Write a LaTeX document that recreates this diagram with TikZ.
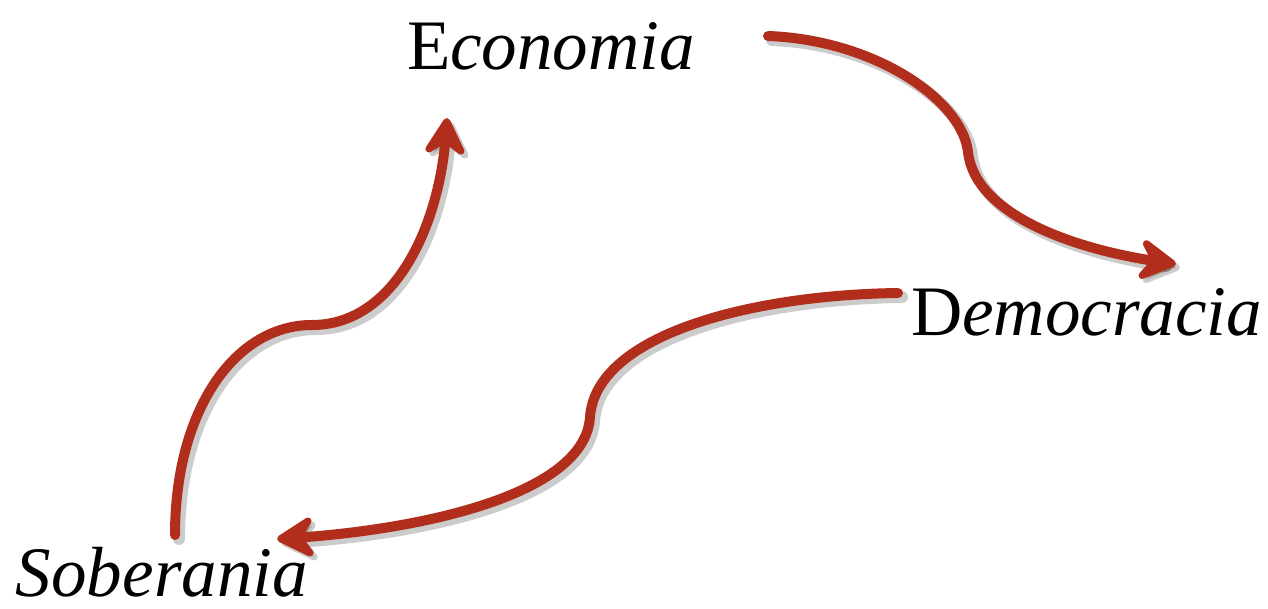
\documentclass[tikz,border=0pt]{standalone}
\usepackage{fontspec}
\setmainfont{Liberation Serif}
\usepackage{tikz}
\usetikzlibrary{decorations.markings, positioning}
\usepackage{xcolor}

\definecolor{flowred}{RGB}{178,46,28}

\begin{document}
\begin{tikzpicture}[
	x=1pt, y=-1pt,
	every node/.style={inner sep=0pt, outer sep=0pt},
	word/.style={font=\fontsize{71}{78}\selectfont, anchor=base west},
	flow head/.style={postaction={decorate, decoration={markings,
		mark=at position 0.9999 with {\filldraw[line width=7pt, line join=round, #1]
			(-3.5,0) -- (-32,16) -- (-21,0) -- (-32,-16) -- cycle;}}}},
	flow/.style={flowred, line width=10pt, line cap=round, shorten >=14pt,
		flow head={flowred}},
	flow shadow/.style={black, opacity=0.2, line width=12pt, line cap=round, shorten >=14pt,
		flow head={black}, transform canvas={shift={(4pt,-4pt)}}}
	]
	\useasboundingbox (0,0) rectangle (1268,609);

	% =====================================================
	% BEGRIFFE
	% =====================================================
	\node[word] (Economia) at (407,70) {E\textit{conomia}};
	\node[word] (Democracia) at (911,335) {D\textit{emocracia}};
	\node[word] (Soberania) at (16,596) {\textit{Soberania}};

	% =====================================================
	% END POINTS
	% =====================================================
	\coordinate (SobStart) at (175,535);
	\coordinate (SobBend) at (312,325);
	\coordinate (EcoTip) at (447,118);
	\coordinate (EcoStart) at (768,36);
	\coordinate (EcoBend) at (968,152);
	\coordinate (DemTip) at (1176,264);
	\coordinate (DemStart) at (898,293);
	\coordinate (DemBend) at (590,417);
	\coordinate (SobTip) at (277,539);

	% =====================================================
	% SCHATTEN
	% =====================================================
	\draw[flow shadow] (SobStart) .. controls (175,410) and (235,325) .. (SobBend)
		.. controls (395,325) and (440,225) .. (EcoTip);
	\draw[flow shadow] (EcoStart) .. controls (875,40) and (962,100) .. (EcoBend)
		.. controls (975,215) and (1075,250) .. (DemTip);
	\draw[flow shadow] (DemStart) .. controls (750,295) and (596,335) .. (DemBend)
		.. controls (585,495) and (420,530) .. (SobTip);

	% =====================================================
	% PFEILE
	% =====================================================
	\draw[flow] (SobStart) .. controls (175,410) and (235,325) .. (SobBend)
		.. controls (395,325) and (440,225) .. (EcoTip);
	\draw[flow] (EcoStart) .. controls (875,40) and (962,100) .. (EcoBend)
		.. controls (975,215) and (1075,250) .. (DemTip);
	\draw[flow] (DemStart) .. controls (750,295) and (596,335) .. (DemBend)
		.. controls (585,495) and (420,530) .. (SobTip);

\end{tikzpicture}
\end{document}
